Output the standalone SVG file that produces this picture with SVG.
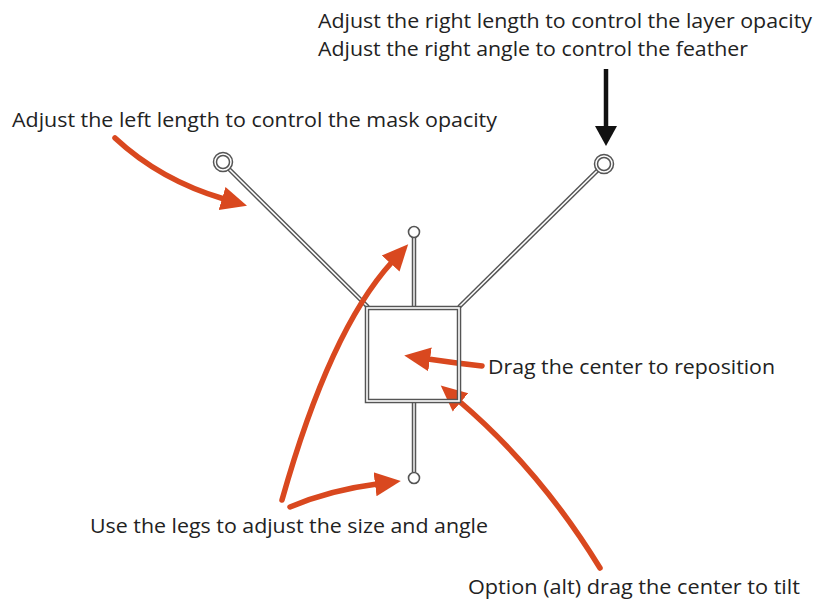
<svg xmlns="http://www.w3.org/2000/svg" width="818" height="603" viewBox="0 0 818 603">
<style>
  text { font-family: "Open Sans", "Noto Sans", sans-serif; font-size: 20.5px; fill: #222; }
  .dbl { fill: none; stroke: #555; stroke-width: 4.5; }
  .dblin { fill: none; stroke: #fff; stroke-width: 1.6; }
  .leg { fill: none; stroke: #555; stroke-width: 4.5; }
  .legin { fill: none; stroke: #fff; stroke-width: 1.4; }
  .orange { fill: none; stroke: #d9481f; stroke-width: 5.5; stroke-linecap: round; }
</style>
<defs>
  <marker id="oh" markerUnits="userSpaceOnUse" viewBox="0 -13 28 26" refX="2" refY="0" markerWidth="28" markerHeight="26" orient="auto">
    <path d="M0,-12 L26,0 L0,12 Z" fill="#d9481f"/>
  </marker>
  <marker id="bh" markerUnits="userSpaceOnUse" viewBox="0 -12 22 24" refX="1" refY="0" markerWidth="22" markerHeight="24" orient="auto">
    <path d="M0,-11 L20,0 L0,11 Z" fill="#111"/>
  </marker>
</defs>
<rect width="818" height="603" fill="#fff"/>

<g id="connectors">
  <g id="left-leg">
    <line class="dbl" x1="228" y1="168" x2="368" y2="307"/>
    <line class="dblin" x1="228" y1="168" x2="368" y2="307"/>
  </g>
  <g id="right-leg">
    <line class="dbl" x1="599" y1="169" x2="459" y2="307"/>
    <line class="dblin" x1="599" y1="169" x2="459" y2="307"/>
  </g>
  <g id="top-leg">
    <line class="leg" x1="414" y1="238" x2="414" y2="308"/>
    <line class="legin" x1="414" y1="238" x2="414" y2="308"/>
  </g>
  <g id="bottom-leg">
    <line class="leg" x1="414" y1="401" x2="414" y2="472"/>
    <line class="legin" x1="414" y1="401" x2="414" y2="472"/>
  </g>
  <path id="arrow-left" class="orange" d="M115,138 Q160,180 224,199" marker-end="url(#oh)"/>
  <path id="arrow-legs-up" class="orange" d="M282,500 Q330,330 392,262" marker-end="url(#oh)"/>
  <path id="arrow-legs-down" class="orange" d="M290,507 Q330,490 377,484" marker-end="url(#oh)"/>
  <path id="arrow-center" class="orange" d="M482,366 Q455,363 428,359" marker-end="url(#oh)"/>
  <path id="arrow-tilt" class="orange" d="M600,568 Q540,470 459,401" marker-end="url(#oh)"/>
  <line id="arrow-right" x1="606" y1="69" x2="606" y2="127" stroke="#111" stroke-width="4.5" marker-end="url(#bh)"/>
</g>

<g id="center-box">
  <rect class="dbl" x="367" y="308" width="92" height="93"/>
  <rect class="dblin" x="367" y="308" width="92" height="93"/>
</g>

<g id="left-handle">
  <circle cx="223" cy="162" r="8" fill="#fff" stroke="#555" stroke-width="4.5"/>
  <circle cx="223" cy="162" r="8" fill="none" stroke="#fff" stroke-width="1.5"/>
</g>
<g id="right-handle">
  <circle cx="604" cy="164" r="8" fill="#fff" stroke="#555" stroke-width="4.5"/>
  <circle cx="604" cy="164" r="8" fill="none" stroke="#fff" stroke-width="1.5"/>
</g>
<g id="top-handle">
  <circle cx="414" cy="232" r="5.5" fill="#fff" stroke="#555" stroke-width="1.6"/>
</g>
<g id="bottom-handle">
  <circle cx="414" cy="478" r="5.5" fill="#fff" stroke="#555" stroke-width="1.6"/>
</g>

<g id="labels">
  <text x="318" y="28" textLength="494" lengthAdjust="spacingAndGlyphs">Adjust the right length to control the layer opacity</text>
  <text x="318" y="56" textLength="430" lengthAdjust="spacingAndGlyphs">Adjust the right angle to control the feather</text>
  <text x="12" y="127" textLength="485" lengthAdjust="spacingAndGlyphs">Adjust the left length to control the mask opacity</text>
  <text x="488" y="374" textLength="287" lengthAdjust="spacingAndGlyphs">Drag the center to reposition</text>
  <text x="90" y="533" textLength="398" lengthAdjust="spacingAndGlyphs">Use the legs to adjust the size and angle</text>
  <text x="468" y="594" textLength="332" lengthAdjust="spacingAndGlyphs">Option (alt) drag the center to tilt</text>
</g>
</svg>
